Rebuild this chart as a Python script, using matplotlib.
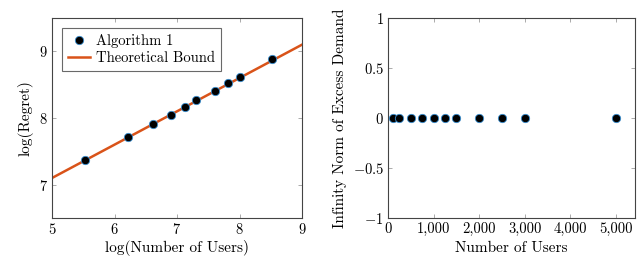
import matplotlib
matplotlib.use("Agg")
import matplotlib.pyplot as plt
import numpy as np

plt.rcParams['font.family'] = 'serif'
plt.rcParams['font.serif'] = ['cmr10', 'DejaVu Serif']
plt.rcParams['mathtext.fontset'] = 'cm'
plt.rcParams['axes.formatter.use_mathtext'] = True
plt.rcParams['axes.unicode_minus'] = True

# Left panel data
log_users = [5.52, 6.21, 6.62, 6.91, 7.13, 7.31, 7.60, 7.82, 8.01, 8.52]
log_regret = [7.37, 7.71, 7.91, 8.04, 8.17, 8.27, 8.40, 8.52, 8.61, 8.89]
bound_x = [5.0, 9.0]
bound_y = [7.1, 9.1]

# Right panel data
users = [100, 250, 500, 750, 1000, 1250, 1500, 2000, 2500, 3000, 5000]
excess = [0, 0, 0, 0, 0, 0, 0, 0, 0, 0, 0]

line_color = '#d95319'
marker_face = 'black'
marker_edge = '#3a8fd0'
grey = '#888888'

fig = plt.figure(figsize=(6.4, 2.56), dpi=100)
ax1 = fig.add_axes([52/640, 1-218/256, 250/640, 200/256])
ax2 = fig.add_axes([388/640, 1-218/256, 247/640, 200/256])

def style(ax):
    for s in ax.spines.values():
        s.set_color('#444444')
        s.set_linewidth(0.8)
    ax.tick_params(direction='in', top=True, right=True, length=3, width=0.5,
                   color=grey, labelsize=10.5, pad=3)

ax1.plot(bound_x, bound_y, color=line_color, lw=1.8, label='Theoretical Bound', zorder=2)
ax1.plot(log_users, log_regret, 'o', ms=6, mfc=marker_face, mec=marker_edge, mew=0.6,
         label='Algorithm 1', zorder=3)
ax1.set_xlim(5, 9)
ax1.set_ylim(6.5, 9.5)
ax1.set_xticks([5, 6, 7, 8, 9])
ax1.set_yticks([7, 8, 9])
ax1.set_xlabel('log(Number of Users)', fontsize=11, labelpad=2)
ax1.set_ylabel('log(Regret)', fontsize=11, labelpad=4)
h, l = ax1.get_legend_handles_labels()
leg = ax1.legend([h[1], h[0]], [l[1], l[0]], loc='upper left', fontsize=10.5,
                 frameon=True, fancybox=False, edgecolor='#444444',
                 borderpad=0.4, handlelength=1.5, handletextpad=0.45,
                 labelspacing=0.2, borderaxespad=0.7)
leg.get_frame().set_linewidth(0.8)
style(ax1)

ax2.plot(users, excess, 'o', ms=6, mfc=marker_face, mec=marker_edge, mew=0.6, zorder=3)
ax2.set_xlim(0, 5420)
ax2.set_ylim(-1, 1)
ax2.set_xticks([0, 1000, 2000, 3000, 4000, 5000])
ax2.set_xticklabels(['0', '1,000', '2,000', '3,000', '4,000', '5,000'])
ax2.set_yticks([-1, -0.5, 0, 0.5, 1])
ax2.set_yticklabels(['$-1$', '$-0.5$', '$0$', '$0.5$', '$1$'])
ax2.set_xlabel('Number of Users', fontsize=11, labelpad=4)
ax2.set_ylabel('Infinity Norm of Excess Demand', fontsize=11, labelpad=4)
style(ax2)

fig.savefig('out.png', dpi=100)
